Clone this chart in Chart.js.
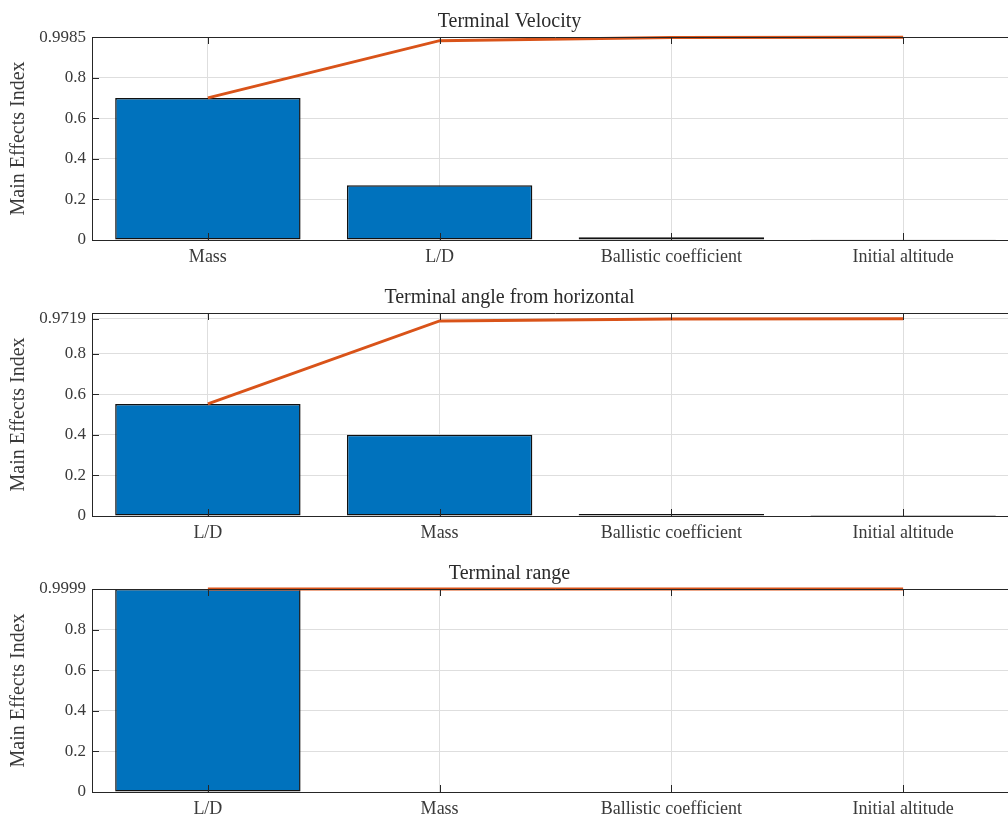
<!DOCTYPE html>
<html>
<head>
<meta charset="utf-8">
<script src="https://cdn.jsdelivr.net/npm/chart.js@4.4.1/dist/chart.umd.min.js"></script>
<style>
  html, body { margin: 0; padding: 0; background: #fff; overflow: hidden; width: 1008px; height: 818px; }
  .panel { position: absolute; left: 0; }
</style>
</head>
<body>
<div class="panel" style="top:0px"><canvas id="velChart" width="1024" height="272"></canvas></div>
<div class="panel" style="top:276px"><canvas id="angChart" width="1024" height="272"></canvas></div>
<div class="panel" style="top:552px"><canvas id="rangeChart" width="1024" height="272"></canvas></div>
<script>
// factor names, ordered by effect size in each panel
const velLabels = ['Mass', 'L/D', 'Ballistic coefficient', 'Initial altitude'];
const angLabels = ['L/D', 'Mass', 'Ballistic coefficient', 'Initial altitude'];
const rangeLabels = ['L/D', 'Mass', 'Ballistic coefficient', 'Initial altitude'];

// main effects index (bars) and the running total (line)
const velEffects = [0.700, 0.270, 0.013, 0.0015];
const velCumulative = [0.700, 0.982, 0.997, 0.9985];
const angEffects = [0.552, 0.400, 0.010, 0.0005];
const angCumulative = [0.552, 0.961, 0.9705, 0.9719];
const rangeEffects = [0.9999, 0, 0, 0];
const rangeCumulative = [0.9995, 0.9998, 0.9999, 0.9999];

// y tick values, last one is the total
const velTicks = [0, 0.2, 0.4, 0.6, 0.8, 0.9985];
const angTicks = [0, 0.2, 0.4, 0.6, 0.8, 0.9719];
const rangeTicks = [0, 0.2, 0.4, 0.6, 0.8, 0.9999];

const AXIS = '#262626';
const GRID = '#dedede';

Chart.defaults.font.family = '"Liberation Serif", "DejaVu Serif", serif';
Chart.defaults.font.size = 17;
Chart.defaults.color = '#3a3a3a';

// box top line + inward tick marks like matlab axes
const axesBox = {
    id: 'axesBox',
    afterDraw(chart) {
        const ctx = chart.ctx;
        const area = chart.chartArea;
        const xs = chart.scales.x;
        const ys = chart.scales.y;
        ctx.save();
        ctx.strokeStyle = AXIS;
        ctx.lineWidth = 1;
        ctx.beginPath();
        ctx.moveTo(area.left, area.top + 0.5);
        ctx.lineTo(area.right, area.top + 0.5);
        xs.ticks.forEach((t, i) => {
            const x = Math.round(xs.getPixelForTick(i)) + 0.5;
            ctx.moveTo(x, area.bottom);
            ctx.lineTo(x, area.bottom - 7);
            ctx.moveTo(x, area.top);
            ctx.lineTo(x, area.top + 7);
        });
        ys.ticks.forEach(t => {
            const y = Math.round(ys.getPixelForValue(t.value)) + 0.5;
            ctx.moveTo(area.left, y);
            ctx.lineTo(area.left + 7, y);
        });
        ctx.stroke();
        ctx.restore();
    }
};

function makeChart(id, title, labels, effects, cumulative, ticks) {
    return new Chart(document.getElementById(id), {
        data: {
            labels: labels,
            datasets: [
                {
                    type: 'line',
                    data: cumulative,
                    borderColor: '#D95319',
                    borderWidth: 3,
                    pointRadius: 0,
                    tension: 0,
                    clip: 4,
                    order: 0
                },
                {
                    type: 'bar',
                    data: effects,
                    backgroundColor: '#0072BD',
                    borderColor: '#111',
                    borderWidth: 1.5,
                    borderSkipped: false,
                    barPercentage: 0.8,
                    categoryPercentage: 1,
                    order: 1
                }
            ]
        },
        options: {
            responsive: false,
            animation: false,
            layout: { padding: { left: 0, right: 5, top: 0, bottom: 0 } },
            plugins: {
                legend: { display: false },
                tooltip: { enabled: false },
                title: {
                    display: true,
                    text: title,
                    color: '#2a2a2a',
                    font: { size: 20, weight: 'normal' },
                    padding: { top: 10, bottom: 3 }
                }
            },
            scales: {
                x: {
                    offset: true,
                    grid: { color: GRID, offset: false, drawTicks: false },
                    border: { color: AXIS, width: 1 },
                    ticks: { padding: 6, maxRotation: 0, autoSkip: false, font: { size: 18 } },
                    afterFit: s => { s.height = 32; }
                },
                y: {
                    min: 0,
                    max: 1,
                    grid: { color: GRID, drawTicks: false },
                    border: { color: AXIS, width: 1 },
                    ticks: { padding: 6, callback: v => String(v) },
                    afterBuildTicks: s => { s.ticks = ticks.map(v => ({ value: v })); },
                    afterFit: s => { s.width = 92; },
                    title: {
                        display: true,
                        text: 'Main Effects Index',
                        font: { size: 20 },
                        padding: { top: 7, bottom: 0 }
                    }
                }
            }
        },
        plugins: [axesBox]
    });
}

makeChart('velChart', 'Terminal Velocity', velLabels, velEffects, velCumulative, velTicks);
makeChart('angChart', 'Terminal angle from horizontal', angLabels, angEffects, angCumulative, angTicks);
makeChart('rangeChart', 'Terminal range', rangeLabels, rangeEffects, rangeCumulative, rangeTicks);
</script>
</body>
</html>
